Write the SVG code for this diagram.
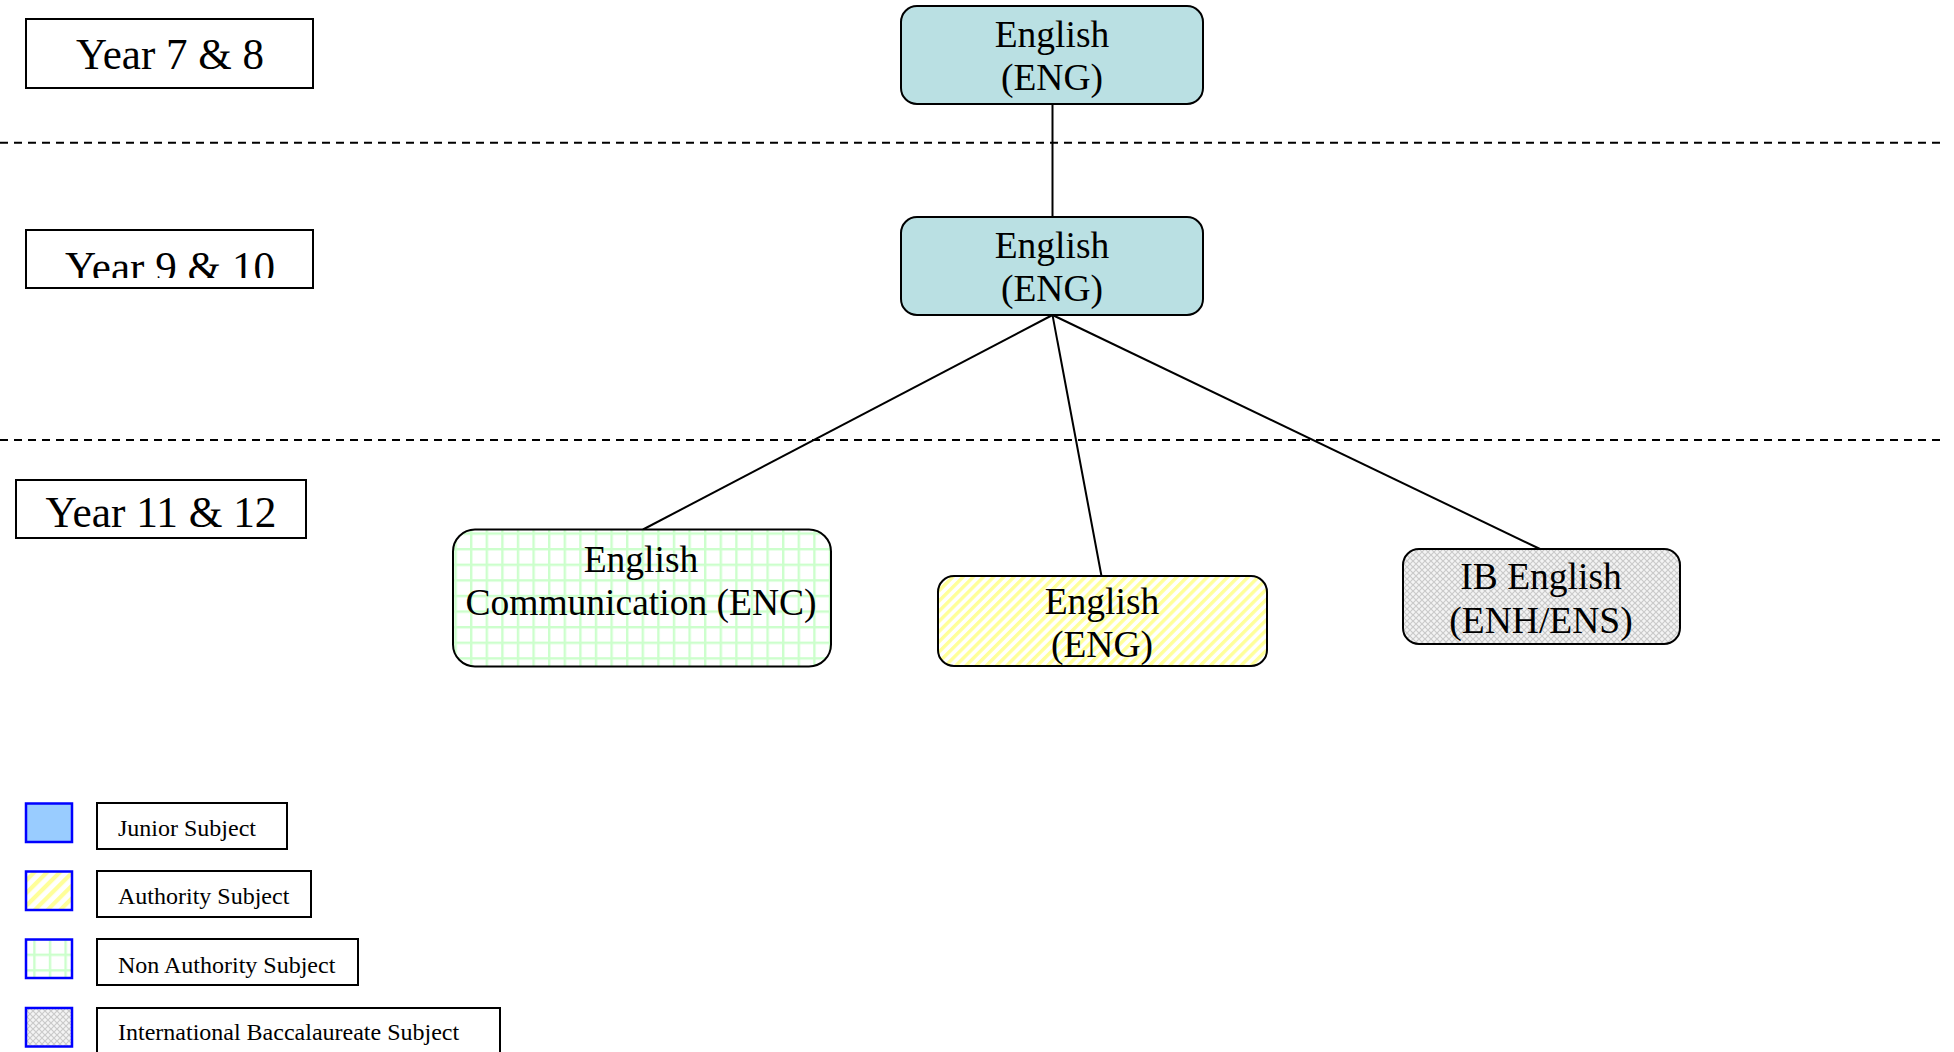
<svg xmlns="http://www.w3.org/2000/svg" width="1954" height="1052" viewBox="0 0 1954 1052">
<style>
.box{fill:#fff;stroke:#000;stroke-width:2}
.node{stroke:#000;stroke-width:2}
.yr{font-family:"Liberation Serif","Times New Roman",serif;font-size:44px;fill:#000;text-anchor:middle}
.nt{font-family:"Liberation Serif","Times New Roman",serif;font-size:37.5px;fill:#000;text-anchor:middle}
.lt{font-family:"Liberation Serif","Times New Roman",serif;font-size:24px;fill:#000}
.sw{stroke:#0000ff;stroke-width:2.5}
.dash{stroke:#000;stroke-width:2;stroke-dasharray:8 6;fill:none}
.conn line{stroke:#000;stroke-width:2}
</style>
<defs>
<pattern id="grid" width="15.6" height="15.6" patternUnits="userSpaceOnUse" x="2" y="2">
<rect width="15.6" height="15.6" fill="#fff"/>
<rect x="0" y="0" width="2.4" height="15.6" fill="#ccffcc"/>
<rect x="0" y="0" width="15.6" height="2.4" fill="#ccffcc"/>
</pattern>
<pattern id="stripe" width="7.2" height="7.2" patternUnits="userSpaceOnUse" patternTransform="rotate(45)">
<rect width="7.2" height="7.2" fill="#fff"/>
<rect width="3.4" height="7.2" fill="#ffff99"/>
</pattern>
<pattern id="stripeL" width="9" height="9" patternUnits="userSpaceOnUse" patternTransform="rotate(45)">
<rect width="9" height="9" fill="#fff"/>
<rect width="4.2" height="9" fill="#ffff99"/>
</pattern>
<pattern id="hatch" width="6" height="6" patternUnits="userSpaceOnUse">
<rect width="6" height="6" fill="#f4f4f4"/>
<path d="M0 0L3 3L0 6M6 0L3 3L6 6" stroke="#cacaca" stroke-width="1.1" fill="none"/>
</pattern>
<clipPath id="clip9"><rect x="26" y="230" width="287" height="48"/></clipPath>
</defs>
<rect width="1954" height="1052" fill="#fff"/>

<g id="dividers">
<line class="dash" x1="0" y1="142.7" x2="1944" y2="142.7"/>
<line class="dash" x1="0" y1="440" x2="1944" y2="440"/>
</g>

<g id="year78">
<rect class="box" x="26" y="19" width="287" height="69"/>
<text class="yr" x="170" y="68.5" textLength="188" lengthAdjust="spacingAndGlyphs">Year 7 &amp; 8</text>
</g>
<g id="year910">
<rect class="box" x="26" y="230" width="287" height="58"/>
<text class="yr" x="170" y="282" textLength="210" lengthAdjust="spacingAndGlyphs" clip-path="url(#clip9)">Year 9 &amp; 10</text>
</g>
<g id="year1112">
<rect class="box" x="16" y="480" width="290" height="58"/>
<text class="yr" x="161" y="527" textLength="231" lengthAdjust="spacingAndGlyphs">Year 11 &amp; 12</text>
</g>

<g class="conn" id="connectors">
<line x1="1052.5" y1="104" x2="1052.5" y2="217"/>
<line x1="1052.5" y1="315" x2="643" y2="529.5"/>
<line x1="1052.5" y1="315" x2="1101.5" y2="576"/>
<line x1="1052.5" y1="315" x2="1540" y2="549"/>
</g>

<g id="eng78">
<rect class="node" x="901" y="6" width="302" height="98" rx="16" fill="#bae0e3"/>
<text class="nt" x="1052" y="46.5">English</text>
<text class="nt" x="1052" y="90">(ENG)</text>
</g>
<g id="eng910">
<rect class="node" x="901" y="217" width="302" height="98" rx="16" fill="#bae0e3"/>
<text class="nt" x="1052" y="258">English</text>
<text class="nt" x="1052" y="301">(ENG)</text>
</g>
<g id="enc">
<rect class="node" x="453" y="529.5" width="378" height="137" rx="22" fill="url(#grid)"/>
<text class="nt" x="641" y="572">English</text>
<text class="nt" x="641" y="615">Communication (ENC)</text>
</g>
<g id="eng1112">
<rect class="node" x="938" y="576" width="329" height="90" rx="16" fill="url(#stripe)"/>
<text class="nt" x="1102" y="614">English</text>
<text class="nt" x="1102" y="657">(ENG)</text>
</g>
<g id="ib">
<rect class="node" x="1403" y="549" width="277" height="95" rx="16" fill="url(#hatch)"/>
<text class="nt" x="1541" y="588.5">IB English</text>
<text class="nt" x="1541" y="633">(ENH/ENS)</text>
</g>

<g id="legend-junior">
<rect class="sw" x="26" y="803.5" width="46" height="38.5" fill="#99ccff"/>
<rect class="box" x="97" y="803" width="190" height="46"/>
<text class="lt" x="118" y="836">Junior Subject</text>
</g>
<g id="legend-authority">
<rect class="sw" x="26" y="871.5" width="46" height="38.5" fill="url(#stripeL)"/>
<rect class="box" x="97" y="871" width="214" height="46"/>
<text class="lt" x="118" y="904">Authority Subject</text>
</g>
<g id="legend-nonauthority">
<rect class="sw" x="26" y="939.5" width="46" height="38.5" fill="url(#grid)"/>
<rect class="box" x="97" y="939" width="261" height="46"/>
<text class="lt" x="118" y="973">Non Authority Subject</text>
</g>
<g id="legend-ib">
<rect class="sw" x="26" y="1008" width="46" height="38.5" fill="url(#hatch)"/>
<rect class="box" x="97" y="1008" width="403" height="60"/>
<text class="lt" x="118" y="1040">International Baccalaureate Subject</text>
</g>
</svg>
